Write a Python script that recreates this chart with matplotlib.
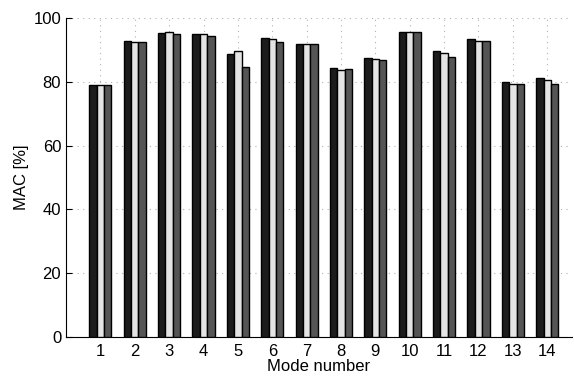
import numpy as np
import matplotlib
matplotlib.use("Agg")
import matplotlib.pyplot as plt

plt.rcParams['font.family'] = ['Liberation Sans', 'DejaVu Sans']

modes = list(range(1, 15))
series_a = [78.9, 92.7, 95.3, 94.9, 88.7, 93.6, 91.7, 84.2, 87.4, 95.5, 89.7, 93.3, 79.8, 81.3]
series_b = [78.9, 92.6, 95.5, 94.9, 89.6, 93.4, 92.0, 83.7, 87.0, 95.5, 89.1, 92.9, 79.4, 80.6]
series_c = [78.9, 92.4, 94.9, 94.3, 84.5, 92.6, 91.7, 83.9, 86.7, 95.5, 87.7, 92.7, 79.4, 79.4]
y_ticks = [0, 20, 40, 60, 80, 100]

fig = plt.figure(figsize=(5.74, 3.79), dpi=100)
ax = fig.add_axes([0.115, 0.111, 0.8815, 0.8415])

x = np.array(modes, dtype=float)
w = 0.215
colors = ['#1c1c1c', '#e4e4e4', '#555555']
for off, vals, c in zip([-w, 0.0, w], [series_a, series_b, series_c], colors):
    ax.bar(x + off, vals, width=w, color=c, edgecolor='black', linewidth=1.0, zorder=3)

ax.set_xlim(0, 14.72)
ax.set_ylim(0, 100)
ax.set_xticks(modes)
ax.set_yticks(y_ticks)
ax.tick_params(direction='in', length=4, labelsize=12, width=0.8, colors='black')
ax.tick_params(axis='x', pad=5)
ax.grid(True, linestyle=(0, (1, 4)), color='#b0b0b0', linewidth=0.8, zorder=0)
ax.spines['top'].set_visible(False)
ax.spines['right'].set_visible(False)
for s in ('left', 'bottom'):
    ax.spines[s].set_linewidth(0.8)
ax.set_ylabel('MAC [%]', fontsize=12, labelpad=3)
ax.set_xlabel('Mode number', fontsize=12, labelpad=0)

fig.savefig('out.png', dpi=100)
